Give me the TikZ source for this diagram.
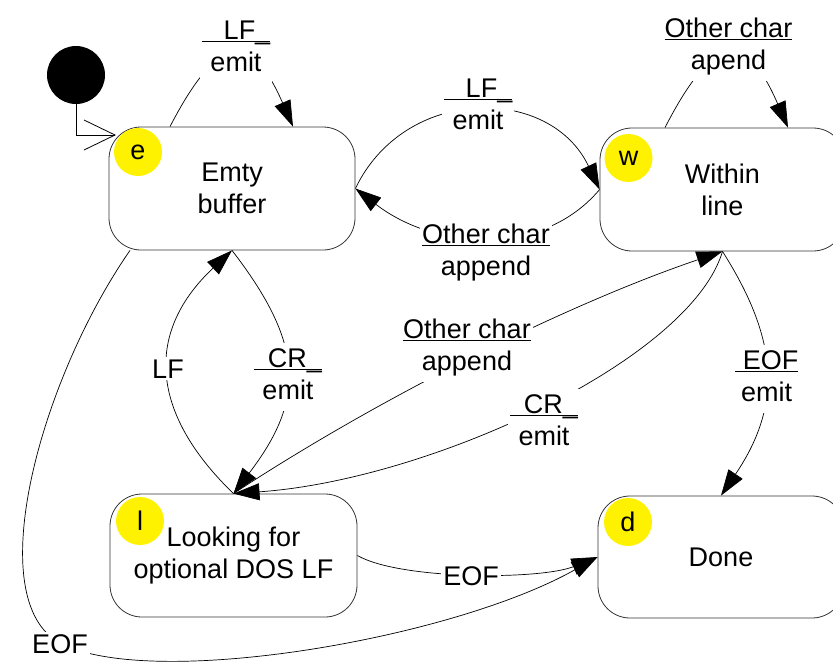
\documentclass[tikz,border=0pt]{standalone}
\usepackage{fontspec}
\setmainfont{Liberation Sans}
\usetikzlibrary{arrows.meta}
\newsavebox\trigbox
\newcommand\trig[1]{\sbox\trigbox{#1}\rlap{\rule[-3pt]{\wd\trigbox}{1pt}}\usebox\trigbox}
\newcommand\twol[2]{\begin{tabular}[t]{@{}c@{}}#1\\#2\end{tabular}}
\begin{document}
\begin{tikzpicture}[x=1pt, y=-1pt,
  every node/.style={font=\fontsize{27}{32}\selectfont},
  state/.style={draw=black!80, line width=0.8pt, rounded corners=32pt, minimum width=246pt, minimum height=123pt, align=center, inner sep=0pt},
  badge/.style={circle, fill=yellow, minimum size=48pt, inner sep=0pt},
  lbl/.style={fill=white, inner sep=2pt, anchor=base},
  plain/.style={line width=0.8pt},
  tr/.style={line width=0.7pt, -{Triangle[length=26pt,width=17pt]}}]
\useasboundingbox (0,0) rectangle (833,667);
% states
\node[state] (e) at (232,188.5) {Emty\\buffer};
\node[state, minimum width=245pt] (w) at (722.5,189.5) {Within\\line};
\node[state, minimum width=247pt] (l) at (233.5,555.5) {Looking for\\optional DOS LF};
\node[state, minimum height=122pt] (d) at (721,557) {Done};
\node[badge] (eb) at (138,152) {e};
\node[badge] (wb) at (628.5,158) {w};
\node[badge] (lb) at (140,521) {l};
\node[badge] (db) at (628,522) {d};
% initial state
\node[circle, fill=black, minimum size=58pt, inner sep=0pt] (init) at (76,75) {};
\coordinate (einit) at (115,135);
\draw[plain] (init.south) |- (einit);
\draw[plain] ([shift={(-31,-15)}]einit) -- (einit) -- ([shift={(-31,15)}]einit);
% transitions
\draw[tr] ([xshift=-62pt]e.north) .. controls (220,30) and (252,33) .. ([xshift=61pt]e.north);
\draw[tr] ([xshift=-57.5pt]w.north) .. controls (715,30) and (747,33) .. ([xshift=65.5pt]w.north);
\draw[tr] (e.east) .. controls (405,85) and (550,85) .. (w.west);
\draw[tr] (w.west) .. controls (542,258) and (435,250) .. (e.east);
\draw[tr] (e.south) .. controls (305,345) and (305,400) .. (l.north);
\draw[tr] (l.north) .. controls (147,410) and (147,330) .. (e.south);
\draw[tr] (l.north) .. controls (385,394) and (573,302) .. (w.south);
\draw[tr] (w.south) .. controls (690,360) and (430,480) .. (l.north);
\draw[tr] (w.south) .. controls (778,339) and (783,404) .. (d.north);
\draw[tr] (l.east) .. controls (400,580) and (540,580) .. (d.west);
\coordinate (eofmid) at (60,643);
\draw[tr] ([xshift=-102pt]e.south) .. controls (40,380) and (-20,600) .. (eofmid) .. controls (150,690) and (450,640) .. (d.west);
% labels
\node[lbl] (t1) at (236,39) {\twol{\trig{\hspace{22pt}LF\_}}{emit}};
\node[lbl] (t2) at (478,97) {\twol{\trig{\hspace{22pt}LF\_}}{emit}};
\node[lbl] (t3) at (486,243) {\twol{\trig{Other char}}{append}};
\node[lbl] (t4) at (728.5,37) {\twol{\trig{Other char}}{apend}};
\node[lbl] (t5) at (288,367) {\twol{\trig{\hspace{14pt}CR\_}}{emit}};
\node[lbl] (t6) at (168,378) {LF};
\node[lbl] (t7) at (467,338) {\twol{\trig{Other char}}{append}};
\node[lbl] (t8) at (544,413) {\twol{\trig{\hspace{14pt}CR\_}}{emit}};
\node[lbl] (t9) at (766.5,369) {\twol{\trig{\hspace{8pt}EOF}}{emit}};
\node[lbl] (t10) at (471,585) {EOF};
\node[lbl] (t11) at (60,653) {EOF};
\end{tikzpicture}
\end{document}
